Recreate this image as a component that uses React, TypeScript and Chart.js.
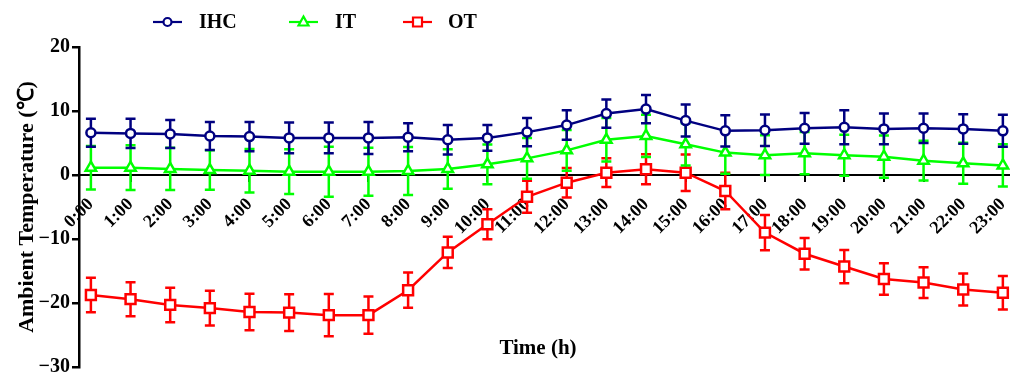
import React, { useEffect, useRef } from 'react';
import { Chart, registerables } from 'chart.js';

Chart.register(...registerables);

const timeLabels = ['0:00', '1:00', '2:00', '3:00', '4:00', '5:00', '6:00', '7:00', '8:00', '9:00', '10:00', '11:00',
  '12:00', '13:00', '14:00', '15:00', '16:00', '17:00', '18:00', '19:00', '20:00', '21:00', '22:00', '23:00'];

const ihcMean = [6.6, 6.5, 6.4, 6.1, 6.0, 5.8, 5.8, 5.8, 5.9, 5.5, 5.8, 6.7, 7.8, 9.6, 10.3, 8.5, 6.9, 7.0, 7.3, 7.45, 7.2, 7.3, 7.2, 6.9];
const ihcErr = [2.2, 2.3, 2.2, 2.2, 2.3, 2.4, 2.4, 2.5, 2.2, 2.3, 2.0, 2.2, 2.3, 2.2, 2.2, 2.5, 2.45, 2.45, 2.4, 2.65, 2.4, 2.3, 2.3, 2.5];
const itMean = [1.15, 1.15, 0.94, 0.78, 0.68, 0.52, 0.52, 0.52, 0.63, 0.94, 1.67, 2.6, 3.85, 5.5, 6.1, 4.8, 3.5, 3.1, 3.4, 3.1, 2.86, 2.24, 1.82, 1.5];
const itErr = [3.4, 3.5, 3.3, 3.1, 3.4, 3.5, 3.9, 3.75, 3.75, 3.1, 3.1, 3.2, 3.2, 3.4, 3.3, 3.3, 3.3, 3.1, 3.3, 3.2, 3.3, 3.1, 3.2, 3.3];
const otMean = [-18.75, -19.4, -20.3, -20.8, -21.4, -21.5, -21.9, -21.9, -18.0, -12.1, -7.7, -3.4, -1.2, 0.36, 0.9, 0.36, -2.5, -9.0, -12.3, -14.3, -16.25, -16.8, -17.9, -18.4];
const otErr = [2.7, 2.66, 2.7, 2.7, 2.85, 2.86, 3.3, 2.9, 2.76, 2.45, 2.34, 2.5, 2.3, 2.24, 2.34, 2.86, 2.86, 2.76, 2.45, 2.6, 2.45, 2.4, 2.5, 2.6];

const seriesNames = ['IHC', 'IT', 'OT'];
const seriesColors = ['#000080', '#00ff00', '#ff0000'];
const seriesPointStyles = ['circle', 'triangle', 'rect'];
const seriesRadius = [4.5, 6, 7];

const yTicks = [-30, -20, -10, 0, 10, 20];
const yTitle = 'Ambient Temperature (\u2103)';
const xTitle = 'Time (h)';

const FONT = "'Liberation Serif', 'Times New Roman', serif";

const errorBarPlugin = {
  id: 'errorBars',
  beforeDatasetDraw(chart: any, args: any) {
    const ds = chart.data.datasets[args.index];
    const errs: number[] = ds.errors;
    if (!errs) return;
    const ctx = chart.ctx;
    const yScale = chart.scales.y;
    const meta = args.meta;
    ctx.save();
    ctx.strokeStyle = ds.borderColor;
    ctx.lineWidth = 2.5;
    meta.data.forEach((el: any, i: number) => {
      const v = ds.data[i].y;
      const top = yScale.getPixelForValue(v + errs[i]);
      const bot = yScale.getPixelForValue(v - errs[i]);
      const x = el.x;
      ctx.beginPath();
      ctx.moveTo(x, top);
      ctx.lineTo(x, bot);
      ctx.moveTo(x - 5, top);
      ctx.lineTo(x + 5, top);
      ctx.moveTo(x - 5, bot);
      ctx.lineTo(x + 5, bot);
      ctx.stroke();
    });
    ctx.restore();
  },
};

const textPlugin = {
  id: 'extraText',
  afterDraw(chart: any) {
    const ctx = chart.ctx;
    const area = chart.chartArea;
    ctx.save();
    ctx.fillStyle = '#000';
    ctx.font = `bold 22px ${FONT}`;
    ctx.translate(33, (area.top + area.bottom) / 2);
    ctx.rotate(-Math.PI / 2);
    ctx.textAlign = 'center';
    ctx.textBaseline = 'alphabetic';
    ctx.fillText(yTitle, 0, 0);
    ctx.restore();

    ctx.save();
    ctx.fillStyle = '#000';
    ctx.font = `bold 21px ${FONT}`;
    ctx.textAlign = 'center';
    ctx.textBaseline = 'middle';
    ctx.fillText(xTitle, 538, 349);
    ctx.restore();

    const legendLineX = [153, 289, 403];
    const legendTextX = [199, 335, 448];
    const ly = 22;
    chart.data.datasets.forEach((ds: any, i: number) => {
      ctx.save();
      ctx.strokeStyle = ds.borderColor;
      ctx.lineWidth = 2.2;
      ctx.beginPath();
      ctx.moveTo(legendLineX[i], ly);
      ctx.lineTo(legendLineX[i] + 29, ly);
      ctx.stroke();
      const cx = legendLineX[i] + 14.5;
      const style = ds.pointStyle;
      ctx.fillStyle = '#fff';
      ctx.beginPath();
      if (style === 'circle') {
        ctx.arc(cx, ly, 4, 0, Math.PI * 2);
      } else if (style === 'triangle') {
        ctx.moveTo(cx, ly - 5.5);
        ctx.lineTo(cx + 5, ly + 3.5);
        ctx.lineTo(cx - 5, ly + 3.5);
        ctx.closePath();
      } else {
        ctx.rect(cx - 4.5, ly - 4.5, 9, 9);
      }
      ctx.fill();
      ctx.stroke();
      ctx.fillStyle = '#000';
      ctx.font = `bold 20px ${FONT}`;
      ctx.textAlign = 'left';
      ctx.textBaseline = 'middle';
      ctx.fillText(ds.label, legendTextX[i], ly + 1);
      ctx.restore();
    });
  },
};

export default function App() {
  const ref = useRef<HTMLCanvasElement | null>(null);

  useEffect(() => {
    document.body.style.margin = '0';
    const canvas = ref.current;
    if (!canvas) return;
    const means = [ihcMean, itMean, otMean];
    const errs = [ihcErr, itErr, otErr];
    const datasets = seriesNames.map((name, s) => ({
      label: name,
      data: means[s].map((v, i) => ({ x: i, y: v })),
      errors: errs[s],
      borderColor: seriesColors[s],
      backgroundColor: seriesColors[s],
      borderWidth: 2.5,
      pointStyle: seriesPointStyles[s],
      pointRadius: seriesRadius[s],
      pointBorderWidth: 2.5,
      pointBackgroundColor: '#ffffff',
      pointBorderColor: seriesColors[s],
      tension: 0,
      clip: false as any,
    }));

    const chart = new Chart(canvas, {
      type: 'line',
      data: { datasets: datasets as any },
      options: {
        responsive: false,
        animation: false,
        layout: { autoPadding: false, padding: { left: 0, top: 47, right: 0, bottom: 5 } },
        plugins: {
          legend: { display: false },
          tooltip: { enabled: false },
        },
        scales: {
          x: {
            type: 'linear',
            position: { y: 0 } as any,
            min: -0.3,
            max: 23.18,
            afterBuildTicks: (scale: any) => {
              scale.ticks = timeLabels.map((_, i) => ({ value: i }));
            },
            afterFit: (scale: any) => {
              scale.paddingLeft = 0;
              scale.paddingRight = 0;
              scale.paddingTop = 0;
              scale.paddingBottom = 0;
            },
            ticks: {
              autoSkip: false,
              minRotation: 45,
              maxRotation: 45,
              padding: 13,
              color: '#000',
              font: { family: FONT, weight: 'bold', size: 18 },
              callback: (v: any) => timeLabels[v] ?? '',
            },
            grid: {
              drawOnChartArea: false,
              drawTicks: true,
              tickLength: 6,
              color: '#000',
              lineWidth: 2,
            },
            border: { color: '#000', width: 2 },
          },
          y: {
            type: 'linear',
            min: -30,
            max: 20,
            afterBuildTicks: (scale: any) => {
              scale.ticks = yTicks.map((v) => ({ value: v }));
            },
            afterFit: (scale: any) => {
              scale.width = 79;
              scale.paddingTop = 0;
              scale.paddingBottom = 0;
            },
            ticks: {
              padding: 2,
              color: '#000',
              font: { family: FONT, weight: 'bold', size: 20 },
              callback: (v: any) => (v < 0 ? '\u2212' + Math.abs(v) : String(v)),
            },
            grid: {
              drawOnChartArea: false,
              drawTicks: true,
              tickLength: 7,
              color: '#000',
              lineWidth: 2.5,
            },
            border: { color: '#000', width: 2.5 },
          },
        },
      },
      plugins: [errorBarPlugin, textPlugin],
    });
    return () => chart.destroy();
  }, []);

  return <canvas ref={ref} width={1010} height={372} style={{ display: 'block' }} />;
}
